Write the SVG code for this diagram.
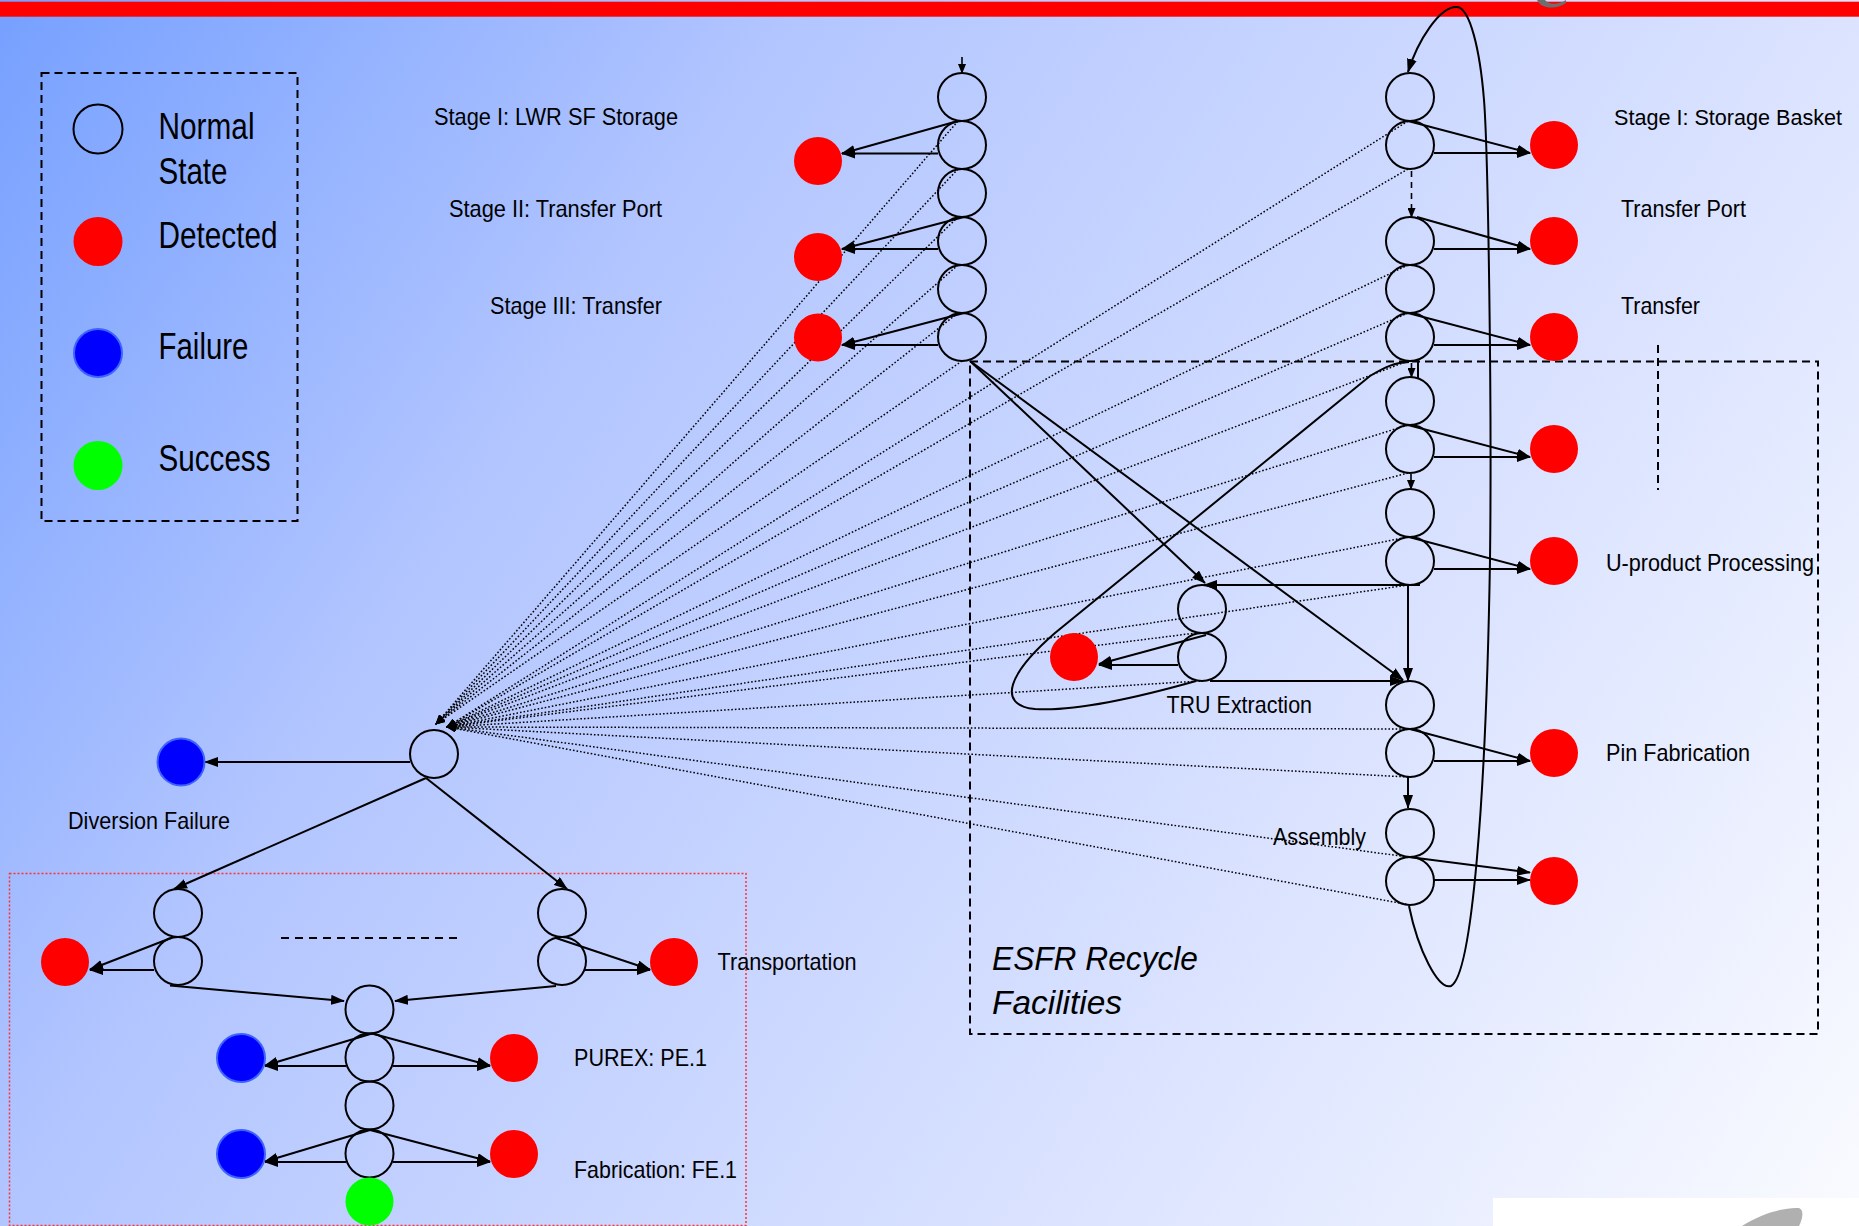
<svg xmlns="http://www.w3.org/2000/svg" width="1859" height="1226" viewBox="0 0 1859 1226">
<defs>
<linearGradient id="bg" gradientUnits="userSpaceOnUse" x1="0" y1="0" x2="1859" y2="1226">
<stop offset="0" stop-color="#76a0ff"/>
<stop offset="0.3" stop-color="#b2c5ff"/>
<stop offset="0.7" stop-color="#dbe3ff"/>
<stop offset="1" stop-color="#fafbff"/>
</linearGradient>
<marker id="a" markerUnits="userSpaceOnUse" markerWidth="14" markerHeight="10" refX="13" refY="5" orient="auto">
<path d="M0,0 L14,5 L0,10 z" fill="#000"/>
</marker>
<marker id="s" markerUnits="userSpaceOnUse" markerWidth="10" markerHeight="8" refX="9" refY="4" orient="auto">
<path d="M0,0 L10,4 L0,8 z" fill="#000"/>
</marker>
<style>
.n{fill:none;stroke:#000;stroke-width:2}
.r{fill:#ff0000}
.b{fill:#0000ff;stroke:#3d62ff;stroke-width:2}
.g{fill:#00ff00}
.c{fill:none;stroke:#000;stroke-width:2}
.ca{fill:none;stroke:#000;stroke-width:2;marker-end:url(#a)}
.cs{fill:none;stroke:#000;stroke-width:1.6;marker-end:url(#s)}
.dd{fill:none;stroke:#000;stroke-width:1.6;stroke-dasharray:6 5;marker-end:url(#s)}
.d{fill:none;stroke:#000;stroke-width:1.5;stroke-dasharray:1.6 2;marker-end:url(#s)}
.t{font-family:"Liberation Sans Narrow","Liberation Sans",Arial,sans-serif;font-size:24px;fill:#000}
.lg{font-family:"Liberation Sans Narrow","Liberation Sans",Arial,sans-serif;font-size:36px;fill:#000}
.it{font-family:"Liberation Sans Narrow","Liberation Sans",Arial,sans-serif;font-size:34px;font-style:italic;fill:#000}
.box{fill:none;stroke:#000;stroke-width:2;stroke-dasharray:8 5}
</style>
</defs>

<rect x="0" y="0" width="1859" height="1226" fill="url(#bg)"/>
<rect x="0" y="1.7" width="1859" height="15" fill="#ff0000"/>
<path d="M1537,0 C1541,9 1556,10 1566,3 L1566,0 C1558,5 1549,5 1545,0 Z" fill="#6e6e6e"/>
<rect x="1493" y="1198" width="366" height="28" fill="#ffffff"/>
<path d="M1742,1226 C1760,1214 1784,1207 1799,1208 C1804,1210 1803,1218 1799,1226 Z" fill="#b0b0b0"/>

<g id="legend">
<rect x="41.5" y="73" width="256" height="448" class="box"/>
<circle cx="98" cy="129" r="24.5" class="n"/>
<circle cx="98" cy="241.5" r="24.5" class="r"/>
<circle cx="98" cy="353" r="24" class="b"/>
<circle cx="98" cy="465.5" r="24.5" class="g"/>
<text x="158.5" y="139" class="lg" textLength="96" lengthAdjust="spacingAndGlyphs">Normal</text>
<text x="158.5" y="184" class="lg" textLength="69" lengthAdjust="spacingAndGlyphs">State</text>
<text x="158.5" y="247.5" class="lg" textLength="119" lengthAdjust="spacingAndGlyphs">Detected</text>
<text x="158.5" y="359" class="lg" textLength="90" lengthAdjust="spacingAndGlyphs">Failure</text>
<text x="158.5" y="471" class="lg" textLength="112" lengthAdjust="spacingAndGlyphs">Success</text>
</g>

<g id="esfr-box">
<rect x="970" y="361.5" width="848" height="672.5" class="box"/>
<path d="M1658,345 L1658,490" class="box"/>
<text x="992" y="969.5" class="it" textLength="206" lengthAdjust="spacingAndGlyphs">ESFR Recycle</text>
<text x="992" y="1014" class="it" textLength="130" lengthAdjust="spacingAndGlyphs">Facilities</text>
</g>

<g id="transport-box">
<rect x="9.5" y="873.5" width="736.5" height="352" fill="none" stroke="#ff3030" stroke-width="1.5" stroke-dasharray="2 2"/>
</g>

<g id="labels">
<text x="434" y="125" class="t" textLength="244" lengthAdjust="spacingAndGlyphs">Stage I: LWR SF Storage</text>
<text x="449" y="217" class="t" textLength="213" lengthAdjust="spacingAndGlyphs">Stage II: Transfer Port</text>
<text x="490" y="313.5" class="t" textLength="172" lengthAdjust="spacingAndGlyphs">Stage III: Transfer</text>
<text x="1614" y="125" class="t" style="font-size:22px" textLength="228" lengthAdjust="spacingAndGlyphs">Stage I: Storage Basket</text>
<text x="1621" y="217" class="t" textLength="125" lengthAdjust="spacingAndGlyphs">Transfer Port</text>
<text x="1621" y="313.5" class="t" textLength="79" lengthAdjust="spacingAndGlyphs">Transfer</text>
<text x="1606" y="571" class="t" textLength="208" lengthAdjust="spacingAndGlyphs">U-product Processing</text>
<text x="1166.5" y="713" class="t" textLength="145.5" lengthAdjust="spacingAndGlyphs">TRU Extraction</text>
<text x="1606" y="761" class="t" textLength="144" lengthAdjust="spacingAndGlyphs">Pin Fabrication</text>
<text x="1273" y="845" class="t" textLength="93" lengthAdjust="spacingAndGlyphs">Assembly</text>
<text x="68" y="829" class="t" textLength="162" lengthAdjust="spacingAndGlyphs">Diversion Failure</text>
<text x="717.5" y="969.5" class="t" textLength="139" lengthAdjust="spacingAndGlyphs">Transportation</text>
<text x="574" y="1066" class="t" textLength="133" lengthAdjust="spacingAndGlyphs">PUREX: PE.1</text>
<text x="574" y="1178" class="t" textLength="163" lengthAdjust="spacingAndGlyphs">Fabrication: FE.1</text>
</g>

<g id="connectors">
<path class="d" d="M958,121 L436,724"/>
<path class="d" d="M958,169 L436,724"/>
<path class="d" d="M958,217 L436,724"/>
<path class="d" d="M958,265 L436,724"/>
<path class="d" d="M958,313 L436,724"/>
<path class="d" d="M962,361 L436,724"/>
<path class="d" d="M1408,121 L447,727"/>
<path class="d" d="M1408,169 L447,727"/>
<path class="d" d="M1408,265 L447,727"/>
<path class="d" d="M1408,313 L447,727"/>
<path class="d" d="M1408,361 L447,727"/>
<path class="d" d="M1408,425 L447,727"/>
<path class="d" d="M1408,473 L447,727"/>
<path class="d" d="M1408,537 L447,727"/>
<path class="d" d="M1408,585 L447,727"/>
<path class="d" d="M1196,633 L447,727"/>
<path class="d" d="M1200,681 L447,727"/>
<path class="d" d="M1408,729 L447,727"/>
<path class="d" d="M1408,777 L447,727"/>
<path class="d" d="M1408,857 L447,727"/>
<path class="d" d="M1410,905 L447,727"/>

<path class="cs" d="M962,57 L962,73"/>
<path class="ca" d="M958,121 L842,153.5"/>
<path class="ca" d="M938,153.5 L842,153.5"/>
<path class="ca" d="M964,217 L842,249"/>
<path class="ca" d="M938,249 L842,249"/>
<path class="ca" d="M964,313 L842,345"/>
<path class="ca" d="M938,345 L842,345"/>
<path class="ca" d="M970,361 L1205,583"/>
<path class="ca" d="M970,361 L1403,680"/>

<path class="ca" d="M1408,121 L1530,153"/>
<path class="ca" d="M1434,153 L1530,153"/>
<path class="dd" d="M1411.5,171 L1411.5,217"/>
<path class="ca" d="M1417,217 L1530,249"/>
<path class="ca" d="M1434,249 L1530,249"/>
<path class="ca" d="M1408,313 L1530,345"/>
<path class="ca" d="M1434,345 L1530,345"/>
<path class="c" d="M1408,361 L1418,361 L1418,378"/>
<path class="cs" d="M1411.5,363 L1411.5,377"/>
<path class="ca" d="M1408,425 L1530,457"/>
<path class="ca" d="M1434,457 L1530,457"/>
<path class="dd" d="M1411,474 L1411,489"/>
<path class="ca" d="M1409,537 L1530,569"/>
<path class="ca" d="M1434,569 L1530,569"/>
<path class="ca" d="M1420,585 L1204,585"/>
<path class="ca" d="M1408,586 L1408,681"/>
<path class="ca" d="M1410,729 L1530,761"/>
<path class="ca" d="M1434,761 L1530,761"/>
<path class="ca" d="M1408,777 L1408,808"/>
<path class="ca" d="M1409,857 L1530,872.5"/>
<path class="ca" d="M1434,880 L1530,880"/>

<path class="ca" d="M1206,635 L1099,664"/>
<path class="ca" d="M1178,665 L1099,665"/>
<path class="ca" d="M1210,681 L1403,681"/>

<path class="c" d="M1409,362 C1396,362 1385,367 1370,376 L1055,633 C1010,672 995,705 1035,709 C1080,712 1150,694 1196,681"/>
<path class="ca" d="M1409,906 C1418,950 1438,990 1451,986 C1472,975 1486,800 1490,560 C1492,400 1488,150 1484,100 C1480,50 1470,8 1457,7 C1440,6 1418,40 1408,72"/>

<path class="ca" d="M410,762 L205,762"/>
<path class="ca" d="M426,778 L174,889"/>
<path class="ca" d="M426,778 L567,889"/>
<path class="ca" d="M171,938 L90,969.5"/>
<path class="ca" d="M154,970 L90,970"/>
<path class="ca" d="M556,938 L650,969.5"/>
<path class="ca" d="M585,970 L650,970"/>
<path class="c" d="M281,938 L457,938" stroke-dasharray="8 6"/>
<path class="ca" d="M170,985.5 L344,1001"/>
<path class="ca" d="M556,986 L395,1001"/>
<path class="ca" d="M372,1033.5 L265,1065.5"/>
<path class="ca" d="M346,1066 L265,1066"/>
<path class="ca" d="M372,1033.5 L490,1065.5"/>
<path class="ca" d="M393,1066 L490,1066"/>
<path class="ca" d="M370,1130 L265,1161.5"/>
<path class="ca" d="M346,1162 L265,1162"/>
<path class="ca" d="M370,1130 L490,1161.5"/>
<path class="ca" d="M393,1162 L490,1162"/>
</g>

<g id="colA">
<g id="a1"><circle cx="962" cy="97" r="24" class="n"/></g>
<g id="a2"><circle cx="962" cy="145" r="24" class="n"/></g>
<g id="a3"><circle cx="962" cy="193" r="24" class="n"/></g>
<g id="a4"><circle cx="962" cy="241" r="24" class="n"/></g>
<g id="a5"><circle cx="962" cy="289" r="24" class="n"/></g>
<g id="a6"><circle cx="962" cy="337" r="24" class="n"/></g>
<g id="ar1"><circle cx="818" cy="161" r="24" class="r"/></g>
<g id="ar2"><circle cx="818" cy="257" r="24" class="r"/></g>
<g id="ar3"><circle cx="818" cy="337.5" r="24" class="r"/></g>
</g>

<g id="colB">
<g id="b1"><circle cx="1410" cy="97" r="24" class="n"/></g>
<g id="b2"><circle cx="1410" cy="145" r="24" class="n"/></g>
<g id="b3"><circle cx="1410" cy="241" r="24" class="n"/></g>
<g id="b4"><circle cx="1410" cy="289" r="24" class="n"/></g>
<g id="b5"><circle cx="1410" cy="337" r="24" class="n"/></g>
<g id="b6"><circle cx="1410" cy="401" r="24" class="n"/></g>
<g id="b7"><circle cx="1410" cy="449" r="24" class="n"/></g>
<g id="b8"><circle cx="1410" cy="513" r="24" class="n"/></g>
<g id="b9"><circle cx="1410" cy="561" r="24" class="n"/></g>
<g id="b10"><circle cx="1410" cy="705" r="24" class="n"/></g>
<g id="b11"><circle cx="1410" cy="753" r="24" class="n"/></g>
<g id="b12"><circle cx="1410" cy="833" r="24" class="n"/></g>
<g id="b13"><circle cx="1410" cy="881" r="24" class="n"/></g>
<g id="br1"><circle cx="1554" cy="145" r="24" class="r"/></g>
<g id="br2"><circle cx="1554" cy="241" r="24" class="r"/></g>
<g id="br3"><circle cx="1554" cy="337" r="24" class="r"/></g>
<g id="br4"><circle cx="1554" cy="449" r="24" class="r"/></g>
<g id="br5"><circle cx="1554" cy="561" r="24" class="r"/></g>
<g id="br6"><circle cx="1554" cy="753" r="24" class="r"/></g>
<g id="br7"><circle cx="1554" cy="881" r="24" class="r"/></g>
</g>

<g id="tru">
<g id="t1"><circle cx="1202" cy="609" r="24" class="n"/></g>
<g id="t2"><circle cx="1202" cy="657" r="24" class="n"/></g>
<g id="tr"><circle cx="1074" cy="657" r="24" class="r"/></g>
</g>

<g id="bottom">
<g id="collector"><circle cx="434" cy="754" r="24" class="n"/></g>
<g id="divfail"><circle cx="181" cy="762" r="23.5" class="b"/></g>
<g id="pl1"><circle cx="178" cy="913" r="24" class="n"/></g>
<g id="pl2"><circle cx="178" cy="961" r="24" class="n"/></g>
<g id="pr1"><circle cx="562" cy="913" r="24" class="n"/></g>
<g id="pr2"><circle cx="562" cy="961" r="24" class="n"/></g>
<g id="plr"><circle cx="65" cy="962" r="24" class="r"/></g>
<g id="prr"><circle cx="674" cy="962" r="24" class="r"/></g>
<g id="m1"><circle cx="369.5" cy="1009.5" r="24" class="n"/></g>
<g id="m2"><circle cx="369.5" cy="1057.5" r="24" class="n"/></g>
<g id="m3"><circle cx="369.5" cy="1105.5" r="24" class="n"/></g>
<g id="m4"><circle cx="369.5" cy="1153.5" r="24" class="n"/></g>
<g id="pb"><circle cx="241" cy="1058" r="24" class="b" stroke="none"/></g>
<g id="pr"><circle cx="514" cy="1058" r="24" class="r"/></g>
<g id="fb"><circle cx="241" cy="1154" r="24" class="b" stroke="none"/></g>
<g id="fr"><circle cx="514" cy="1154" r="24" class="r"/></g>
<g id="succ"><circle cx="369.5" cy="1201.5" r="24" class="g"/></g>
</g>
</svg>
